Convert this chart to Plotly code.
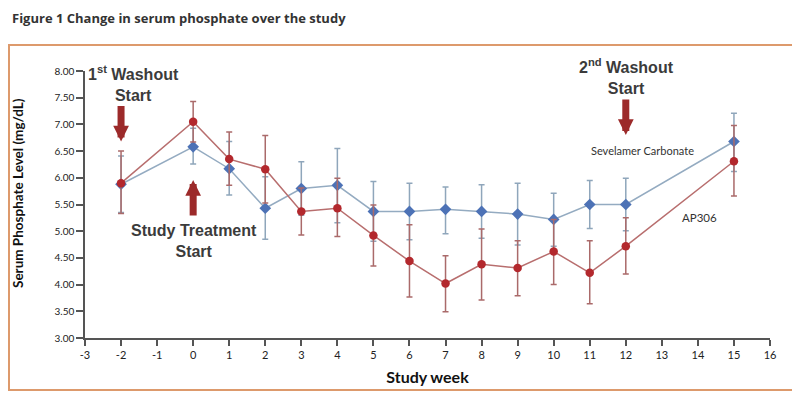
import plotly.graph_objects as go

weeks = [-2, 0, 1, 2, 3, 4, 5, 6, 7, 8, 9, 10, 11, 12, 15]

ap306_mean = [5.90, 7.05, 6.35, 6.16, 5.37, 5.43, 4.92, 4.44, 4.02, 4.38, 4.31, 4.62, 4.22, 4.72, 6.31]
ap306_top = [6.50, 7.43, 6.86, 6.79, 5.81, 5.99, 5.49, 5.12, 4.54, 5.04, 4.82, 5.22, 4.82, 5.25, 6.98]
ap306_bot = [5.33, 6.67, 5.86, 5.53, 4.93, 4.90, 4.35, 3.77, 3.49, 3.71, 3.79, 4.00, 3.64, 4.20, 5.66]

sev_mean = [5.88, 6.58, 6.17, 5.43, 5.80, 5.86, 5.37, 5.37, 5.41, 5.37, 5.32, 5.22, 5.50, 5.50, 6.68]
sev_top = [6.41, 6.93, 6.68, 6.02, 6.30, 6.55, 5.93, 5.90, 5.83, 5.87, 5.90, 5.71, 5.95, 5.99, 7.21]
sev_bot = [5.35, 6.26, 5.68, 4.85, 5.30, 5.16, 4.81, 4.84, 4.95, 4.87, 4.74, 4.72, 5.05, 5.01, 6.12]

x_ticks = list(range(-3, 17))
y_ticks = [3.0, 3.5, 4.0, 4.5, 5.0, 5.5, 6.0, 6.5, 7.0, 7.5, 8.0]

# page body has an 8px margin; figure sized to fit the 800x395 window
OFF = 8
W, H = 800 - OFF, 395 - OFF
L, R, T, B = 77, 30, 63, 57
PW, PH = W - L - R, H - T - B


def px(sx):
    return (sx - OFF - L) / PW


def py(sy):
    return (H - B - (sy - OFF)) / PH


fig = go.Figure()

fig.add_trace(go.Scatter(
    x=weeks, y=sev_mean, mode="lines+markers", name="Sevelamer Carbonate",
    line=dict(color="#94abc1", width=1.5),
    marker=dict(symbol="diamond", size=9, color="#4d72b6"),
    error_y=dict(type="data", symmetric=False,
                 array=[t - m for t, m in zip(sev_top, sev_mean)],
                 arrayminus=[m - b for m, b in zip(sev_mean, sev_bot)],
                 color="#8fa6bb", thickness=1.5, width=3),
))
fig.add_trace(go.Scatter(
    x=weeks, y=ap306_mean, mode="lines+markers", name="AP306",
    line=dict(color="#b86e6e", width=1.5),
    marker=dict(symbol="circle", size=8.5, color="#b3282d"),
    error_y=dict(type="data", symmetric=False,
                 array=[t - m for t, m in zip(ap306_top, ap306_mean)],
                 arrayminus=[m - b for m, b in zip(ap306_mean, ap306_bot)],
                 color="#aa6a6a", thickness=1.5, width=3),
))

txt = "#3b3b3b"
bold_font = dict(family="Liberation Sans, Arial", size=16, color=txt)
arrow_col = "#9c2a2a"

annotations = [
    dict(text="<b>Figure 1 Change in serum phosphate over the study</b>",
         xref="paper", yref="paper", x=px(OFF + 2), y=py(18), xanchor="left", yanchor="middle",
         showarrow=False, font=dict(family="Open Sans", size=13, color="#333333")),
    dict(text="<b>Serum Phosphate Level (mg/dL)</b>", textangle=-90,
         xref="paper", yref="paper", x=px(18), y=py(193), xanchor="center", yanchor="middle",
         showarrow=False, font=dict(family="Lato", size=13.5, color="#111111")),
    dict(text="<b>1<sup>st</sup> Washout<br>Start</b>", x=-1.655, y=7.77,
         showarrow=False, font=bold_font, align="center"),
    dict(text="<b>Study Treatment<br>Start</b>", x=0.03, y=4.82,
         showarrow=False, font=bold_font, align="center"),
    dict(text="<b>2<sup>nd</sup> Washout<br>Start</b>", x=12.03, y=7.90,
         showarrow=False, font=bold_font, align="center"),
    dict(text="Sevelamer Carbonate", x=12.46, y=6.52, showarrow=False,
         font=dict(family="Lato", size=11, color="#333333")),
    dict(text="AP306", x=14.05, y=5.25, showarrow=False,
         font=dict(family="Lato", size=11.5, color="#333333")),
    dict(text="", x=-2, y=6.68, ax=0, ay=-37, showarrow=True, arrowhead=2,
         arrowwidth=7, arrowsize=0.45, arrowcolor=arrow_col),
    dict(text="", x=0, y=5.96, ax=0, ay=37, showarrow=True, arrowhead=2,
         arrowwidth=7, arrowsize=0.45, arrowcolor=arrow_col),
    dict(text="", x=12, y=6.80, ax=0, ay=-37, showarrow=True, arrowhead=2,
         arrowwidth=7, arrowsize=0.45, arrowcolor=arrow_col),
]

fig.update_layout(
    width=W, height=H,
    margin=dict(l=L, r=R, t=T, b=B, pad=0),
    paper_bgcolor="white", plot_bgcolor="white",
    showlegend=False,
    annotations=annotations,
    shapes=[dict(type="rect", xref="paper", yref="paper",
                 x0=px(OFF + 1), x1=px(795), y0=py(390), y1=py(45),
                 line=dict(color="#dd9a6c", width=2), layer="below")],
    xaxis=dict(range=[-3, 16], tickvals=x_ticks, ticktext=[str(v) for v in x_ticks],
               showgrid=False, zeroline=False, showline=True, linecolor="#555555",
               linewidth=1.5, ticks="outside", ticklen=6, tickcolor="#555555",
               tickwidth=1.5,
               tickfont=dict(family="Lato", size=11, color="#222222"),
               title=dict(text="<b>Study week</b>", standoff=12,
                          font=dict(family="Lato", size=16, color="#111111"))),
    yaxis=dict(range=[3, 8], tickvals=y_ticks, ticktext=["%.2f" % v for v in y_ticks],
               showgrid=False, zeroline=False, showline=True, linecolor="#555555",
               linewidth=1.5, ticks="outside", ticklen=7, tickcolor="#555555",
               tickwidth=1.5,
               tickfont=dict(family="Lato", size=10, color="#222222")),
)

fig.write_html("out.html")
